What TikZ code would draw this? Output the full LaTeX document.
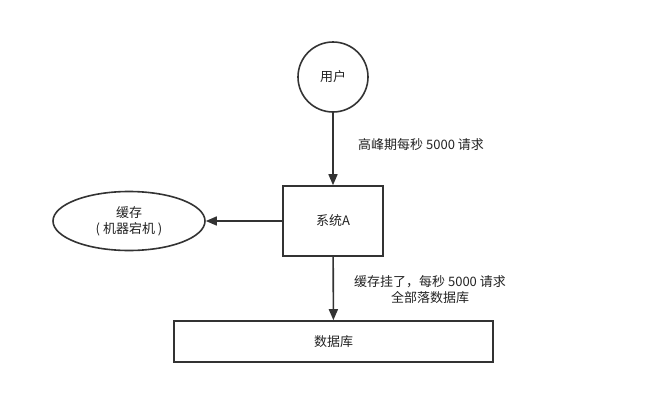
\documentclass[tikz,border=0pt]{standalone}
\usepackage{fontspec}
\setmainfont{Noto Sans CJK SC}
\usetikzlibrary{arrows.meta,shapes.geometric}
\definecolor{ln}{HTML}{333333}
\definecolor{tx}{HTML}{222222}
\tikzset{
  shp/.style={draw=ln, line width=1.6pt, text=tx, font=\fontsize{13}{16}\selectfont, align=center, inner sep=0pt},
  conn/.style={draw=ln, line width=1.6pt, -{Triangle[length=11pt,width=9pt]}},
  lbl/.style={text=tx, font=\fontsize{13}{16}\selectfont, align=center, inner sep=0pt}
}
\begin{document}
\begin{tikzpicture}[x=1pt,y=-1pt]
\useasboundingbox (0,0) rectangle (650,407);
\node[shp, circle, minimum size=70pt] (user) at (333,77) {用户};
\node[shp, rectangle, minimum width=100pt, minimum height=70pt] (sys) at (333,221) {系统A};
\node[shp, ellipse, minimum width=152pt, minimum height=59pt] (cache) at (129,221) {缓存\\( 机器宕机 )};
\node[shp, rectangle, minimum width=319pt, minimum height=41pt] (db) at (333.5,341.5) {数据库};
\draw[conn] (user) -- (sys);
\draw[conn] (sys) -- (cache);
\draw[conn] (sys) -- (db);
\node[lbl, anchor=west] (l1) at (358,145) {高峰期每秒 5000 请求};
\node[lbl] (l2) at (430,290) {缓存挂了，每秒 5000 请求\\全部落数据库};
\end{tikzpicture}
\end{document}
